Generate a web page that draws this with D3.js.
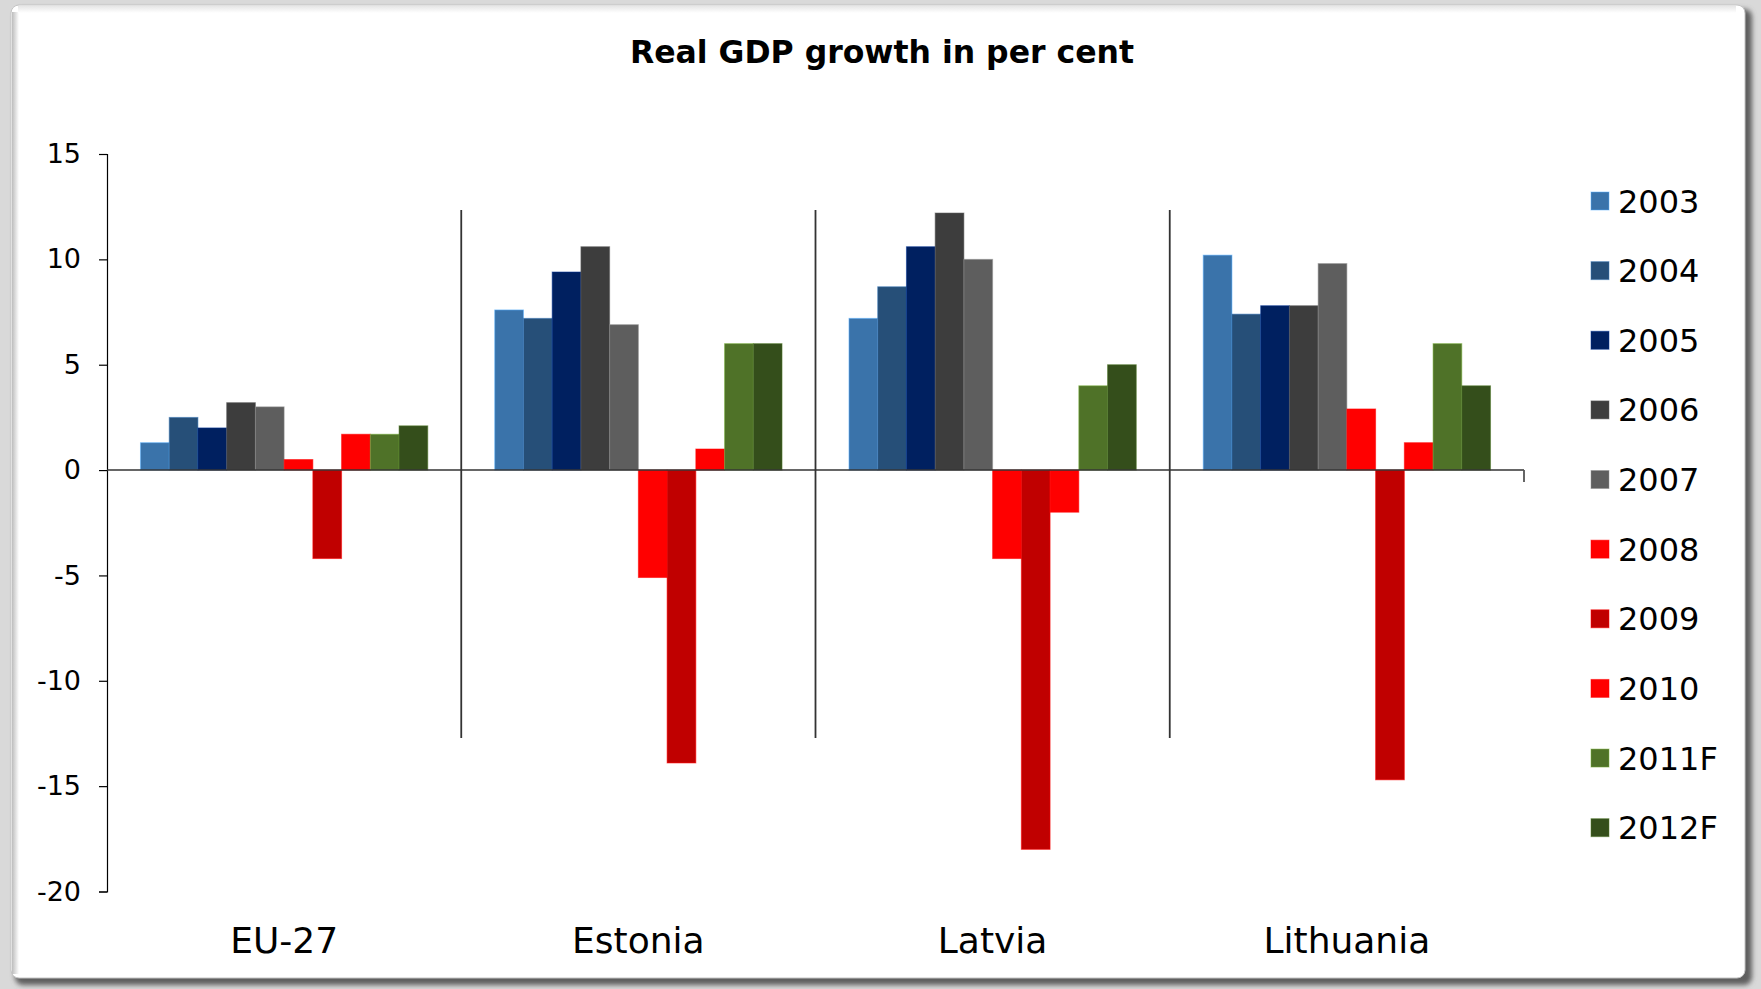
<!DOCTYPE html>
<html>
<head>
<meta charset="utf-8">
<script src="https://cdn.jsdelivr.net/npm/d3@7"></script>
<style>
  html, body { margin: 0; padding: 0; background: #d9d9d9; }
  svg { display: block; }
  text { font-family: "DejaVu Sans", Verdana, sans-serif; fill: #000; }
</style>
</head>
<body>
<svg id="chart" width="1761" height="989"></svg>
<script>
// ---- data ----
const categories = ["EU-27", "Estonia", "Latvia", "Lithuania"];
const seriesNames = ["2003", "2004", "2005", "2006", "2007", "2008", "2009", "2010", "2011F", "2012F"];
const seriesColors = ["#3a73aa", "#264f78", "#002060", "#3d3d3d", "#5e5e5e", "#ff0000", "#c00000", "#ff0000", "#4f7228", "#344e1b"];
const valuesEU27     = [1.3, 2.5, 2.0, 3.2, 3.0, 0.5, -4.2, 1.7, 1.7, 2.1];
const valuesEstonia  = [7.6, 7.2, 9.4, 10.6, 6.9, -5.1, -13.9, 1.0, 6.0, 6.0];
const valuesLatvia   = [7.2, 8.7, 10.6, 12.2, 10.0, -4.2, -18.0, -2.0, 4.0, 5.0];
const valuesLithuania= [10.2, 7.4, 7.8, 7.8, 9.8, 2.9, -14.7, 1.3, 6.0, 4.0];
const yTicks = [15, 10, 5, 0, -5, -10, -15, -20];
const titleText = "Real GDP growth in per cent";

const valuesByCategory = [valuesEU27, valuesEstonia, valuesLatvia, valuesLithuania];
const rows = [];
categories.forEach((c, ci) => {
  seriesNames.forEach((s, si) => rows.push({cat: c, series: s, value: valuesByCategory[ci][si], color: seriesColors[si]}));
});

// ---- layout ----
const svg = d3.select("#chart");
const plot = {left: 107, right: 1524, top: 154, bottom: 891.5};

// frame
const defs = svg.append("defs");
const blur = defs.append("filter").attr("id", "shadow").attr("x", "-5%").attr("y", "-5%").attr("width", "110%").attr("height", "110%");
blur.append("feGaussianBlur").attr("stdDeviation", 2.5);
const gl = defs.append("linearGradient").attr("id", "leftEdge").attr("x1", 0).attr("x2", 1).attr("y1", 0).attr("y2", 0);
gl.append("stop").attr("offset", 0).attr("stop-color", "#bdbdbd");
gl.append("stop").attr("offset", 1).attr("stop-color", "#ffffff");
const gt = defs.append("linearGradient").attr("id", "topEdge").attr("x1", 0).attr("x2", 0).attr("y1", 0).attr("y2", 1);
gt.append("stop").attr("offset", 0).attr("stop-color", "#e6e6e6");
gt.append("stop").attr("offset", 1).attr("stop-color", "#ffffff");

svg.append("rect").attr("x", 15).attr("y", 9).attr("width", 1737).attr("height", 976)
  .attr("rx", 8).attr("fill", "#5e5e5e").attr("filter", "url(#shadow)");
svg.append("rect").attr("x", 11).attr("y", 5).attr("width", 1734).attr("height", 973)
  .attr("rx", 8).attr("fill", "#ffffff").attr("stroke", "#c4c4c4").attr("stroke-width", 1);
svg.append("rect").attr("x", 12).attr("y", 12).attr("width", 7).attr("height", 962).attr("fill", "url(#leftEdge)");
svg.append("rect").attr("x", 18).attr("y", 6).attr("width", 1718).attr("height", 7).attr("fill", "url(#topEdge)");

// title
svg.append("text").attr("x", 882).attr("y", 63).attr("text-anchor", "middle")
  .attr("font-weight", "bold").attr("font-size", 31.5).text(titleText);

// scales
const x0 = d3.scaleBand().domain(categories).range([plot.left, plot.right]).paddingInner(0).paddingOuter(0);
const x1 = d3.scaleBand().domain(seriesNames).range([0, x0.bandwidth()]).paddingInner(0).paddingOuter(1.165);
const y = d3.scaleLinear().domain([-20, 15]).range([plot.bottom, plot.top]);

// bars
const g = svg.append("g");
g.selectAll("rect.bar").data(rows).join("rect")
  .attr("class", "bar")
  .attr("x", d => x0(d.cat) + x1(d.series))
  .attr("width", x1.bandwidth())
  .attr("y", d => y(Math.max(0, d.value)))
  .attr("height", d => Math.abs(y(d.value) - y(0)))
  .attr("fill", d => d.color)
  .attr("stroke", d => d3.color(d.color).brighter(1.2))
  .attr("stroke-opacity", 0.55)
  .attr("stroke-width", 1);

// y axis
const yAxis = d3.axisLeft(y).tickValues(yTicks).tickSize(8).tickPadding(18).tickFormat(d => String(d));
const ya = svg.append("g").attr("transform", `translate(${plot.left},0)`).call(yAxis);
ya.select(".domain").attr("stroke", "#000").attr("stroke-width", 1.2);
ya.selectAll(".tick line").attr("stroke", "#000").attr("stroke-width", 1.2);
ya.selectAll(".tick text").attr("font-size", 27).attr("font-family", "DejaVu Sans, Verdana, sans-serif").attr("fill", "#000");

// x axis line at zero
const y0 = y(0);
svg.append("line").attr("x1", plot.left).attr("x2", plot.right).attr("y1", y0).attr("y2", y0)
  .attr("stroke", "#333").attr("stroke-width", 1.5);
// category separators
categories.slice(1).forEach(c => {
  svg.append("line").attr("x1", x0(c)).attr("x2", x0(c)).attr("y1", 210).attr("y2", 738)
    .attr("stroke", "#333").attr("stroke-width", 1.8);
});
// end tick
svg.append("line").attr("x1", plot.right).attr("x2", plot.right).attr("y1", y0).attr("y2", y0 + 12)
  .attr("stroke", "#555").attr("stroke-width", 1.8);

// category labels
svg.append("g").selectAll("text").data(categories).join("text")
  .attr("x", d => x0(d) + x0.bandwidth() / 2)
  .attr("y", 953)
  .attr("text-anchor", "middle")
  .attr("font-size", 36)
  .text(d => d);

// legend
const leg = svg.append("g");
const legY0 = 201, legStep = 69.63;
seriesNames.forEach((s, i) => {
  const cy = legY0 + i * legStep;
  leg.append("rect").attr("x", 1591).attr("y", cy - 9).attr("width", 18).attr("height", 18)
    .attr("fill", seriesColors[i]).attr("stroke", d3.color(seriesColors[i]).brighter(1.2)).attr("stroke-opacity", 0.5);
  leg.append("text").attr("x", 1618).attr("y", cy + 11.5).attr("font-size", 32).text(s);
});
</script>
</body>
</html>
